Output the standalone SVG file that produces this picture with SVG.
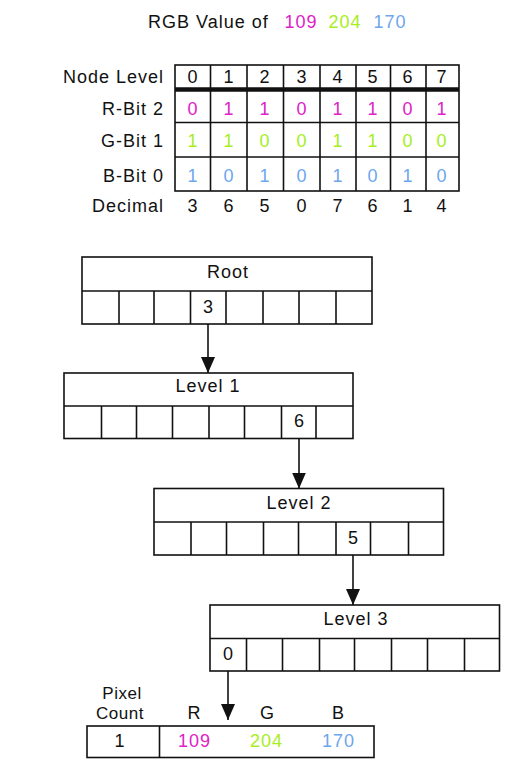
<svg xmlns="http://www.w3.org/2000/svg" width="532" height="774" viewBox="0 0 532 774">
<style>
text{font-family:"Liberation Sans",Arial,sans-serif;font-size:18px;fill:#111;letter-spacing:1px}
.c{text-anchor:middle}
.r{text-anchor:end}
.m{fill:#e020c8}
.g{fill:#a6ee1c}
.b{fill:#6ea6ee}
.s{font-size:17px;letter-spacing:0.5px}
.box{fill:#fff;stroke:#111;stroke-width:1.6}
.ln{stroke:#111;stroke-width:1.6;fill:none}
.ar{stroke:#111;stroke-width:1.6;fill:none;marker-end:url(#ah)}
</style>
<defs>
<marker id="ah" viewBox="0 0 16 14" refX="16" refY="7" markerWidth="16" markerHeight="14" markerUnits="userSpaceOnUse" orient="auto">
<path d="M0,0 L16,7 L0,14 z" fill="#111"/>
</marker>
</defs>
<rect width="532" height="774" fill="#fff"/>

<g id="title">
<text x="148" y="28">RGB Value of</text>
<text x="301" y="28" class="c m">109</text>
<text x="345" y="28" class="c g">204</text>
<text x="390" y="28" class="c b">170</text>
</g>

<g id="bit-table">
<rect class="box" x="175" y="65" width="284" height="126"/>
<line class="ln" x1="175" y1="122.5" x2="459" y2="122.5"/>
<line class="ln" x1="175" y1="157" x2="459" y2="157"/>
<line x1="175" y1="89.5" x2="459" y2="89.5" stroke="#111" stroke-width="4.5"/>
<g class="ln">
<line x1="210.5" y1="65" x2="210.5" y2="191"/>
<line x1="247" y1="65" x2="247" y2="191"/>
<line x1="283.5" y1="65" x2="283.5" y2="191"/>
<line x1="320" y1="65" x2="320" y2="191"/>
<line x1="356" y1="65" x2="356" y2="191"/>
<line x1="390.5" y1="65" x2="390.5" y2="191"/>
<line x1="426" y1="65" x2="426" y2="191"/>
</g>
<text x="164" y="83" class="r">Node Level</text>
<text x="164" y="115" class="r">R-Bit 2</text>
<text x="164" y="147" class="r">G-Bit 1</text>
<text x="164" y="182" class="r">B-Bit 0</text>
<text x="164" y="212" class="r">Decimal</text>
<g class="c">
<text x="193" y="83">0</text><text x="229" y="83">1</text><text x="265" y="83">2</text><text x="302" y="83">3</text><text x="338" y="83">4</text><text x="373" y="83">5</text><text x="408" y="83">6</text><text x="442" y="83">7</text>
<text x="193" y="115" class="m">0</text><text x="229" y="115" class="m">1</text><text x="265" y="115" class="m">1</text><text x="302" y="115" class="m">0</text><text x="338" y="115" class="m">1</text><text x="373" y="115" class="m">1</text><text x="408" y="115" class="m">0</text><text x="442" y="115" class="m">1</text>
<text x="193" y="147" class="g">1</text><text x="229" y="147" class="g">1</text><text x="265" y="147" class="g">0</text><text x="302" y="147" class="g">0</text><text x="338" y="147" class="g">1</text><text x="373" y="147" class="g">1</text><text x="408" y="147" class="g">0</text><text x="442" y="147" class="g">0</text>
<text x="193" y="182" class="b">1</text><text x="229" y="182" class="b">0</text><text x="265" y="182" class="b">1</text><text x="302" y="182" class="b">0</text><text x="338" y="182" class="b">1</text><text x="373" y="182" class="b">0</text><text x="408" y="182" class="b">1</text><text x="442" y="182" class="b">0</text>
<text x="193" y="212">3</text><text x="229" y="212">6</text><text x="265" y="212">5</text><text x="302" y="212">0</text><text x="338" y="212">7</text><text x="373" y="212">6</text><text x="408" y="212">1</text><text x="442" y="212">4</text>
</g>
</g>

<g id="root">
<rect class="box" x="82" y="257" width="290" height="67"/>
<line class="ln" x1="82" y1="291" x2="372" y2="291"/>
<g class="ln">
<line x1="119" y1="291" x2="119" y2="324"/><line x1="154" y1="291" x2="154" y2="324"/><line x1="190.5" y1="291" x2="190.5" y2="324"/><line x1="226" y1="291" x2="226" y2="324"/><line x1="263" y1="291" x2="263" y2="324"/><line x1="299" y1="291" x2="299" y2="324"/><line x1="336" y1="291" x2="336" y2="324"/>
</g>
<text x="228" y="278" class="c">Root</text>
<text x="208.5" y="313" class="c">3</text>
</g>

<g id="level1">
<rect class="box" x="64" y="373" width="289" height="65.5"/>
<line class="ln" x1="64" y1="406" x2="353" y2="406"/>
<g class="ln">
<line x1="101.5" y1="406" x2="101.5" y2="438.5"/><line x1="136.5" y1="406" x2="136.5" y2="438.5"/><line x1="172.5" y1="406" x2="172.5" y2="438.5"/><line x1="209" y1="406" x2="209" y2="438.5"/><line x1="244.5" y1="406" x2="244.5" y2="438.5"/><line x1="281.5" y1="406" x2="281.5" y2="438.5"/><line x1="316" y1="406" x2="316" y2="438.5"/>
</g>
<text x="208" y="392" class="c">Level 1</text>
<text x="299.5" y="427" class="c">6</text>
</g>

<g id="level2">
<rect class="box" x="154" y="488.5" width="289.5" height="66.5"/>
<line class="ln" x1="154" y1="522" x2="443.5" y2="522"/>
<g class="ln">
<line x1="191" y1="522" x2="191" y2="555"/><line x1="226.5" y1="522" x2="226.5" y2="555"/><line x1="263.5" y1="522" x2="263.5" y2="555"/><line x1="298.5" y1="522" x2="298.5" y2="555"/><line x1="336" y1="522" x2="336" y2="555"/><line x1="370.5" y1="522" x2="370.5" y2="555"/><line x1="408.5" y1="522" x2="408.5" y2="555"/>
</g>
<text x="299" y="509" class="c">Level 2</text>
<text x="353.5" y="544" class="c">5</text>
</g>

<g id="level3">
<rect class="box" x="210" y="605" width="289.5" height="66"/>
<line class="ln" x1="210" y1="638.5" x2="499.5" y2="638.5"/>
<g class="ln">
<line x1="246.5" y1="638.5" x2="246.5" y2="671"/><line x1="282.5" y1="638.5" x2="282.5" y2="671"/><line x1="319.5" y1="638.5" x2="319.5" y2="671"/><line x1="354.5" y1="638.5" x2="354.5" y2="671"/><line x1="391.5" y1="638.5" x2="391.5" y2="671"/><line x1="427.5" y1="638.5" x2="427.5" y2="671"/><line x1="464.5" y1="638.5" x2="464.5" y2="671"/>
</g>
<text x="356" y="625" class="c">Level 3</text>
<text x="228.5" y="660" class="c">0</text>
</g>

<g id="pixel">
<rect class="box" x="87" y="726" width="287" height="31.5"/>
<line class="ln" x1="159.5" y1="726" x2="159.5" y2="757.5"/>
<text x="122" y="699" class="c s">Pixel</text>
<text x="120" y="719" class="c s">Count</text>
<text x="194.5" y="719" class="c">R</text>
<text x="267.5" y="719" class="c">G</text>
<text x="338.5" y="719" class="c">B</text>
<text x="120" y="747" class="c">1</text>
<text x="194.5" y="747" class="c m">109</text>
<text x="266.5" y="747" class="c g">204</text>
<text x="338.5" y="747" class="c b">170</text>
</g>

<g id="connectors">
<line class="ar" x1="208" y1="324" x2="208" y2="373"/>
<line class="ar" x1="299" y1="438.5" x2="299" y2="488.5"/>
<line class="ar" x1="353" y1="555" x2="353" y2="605"/>
<line class="ar" x1="228" y1="671" x2="228" y2="720"/>
</g>
</svg>
